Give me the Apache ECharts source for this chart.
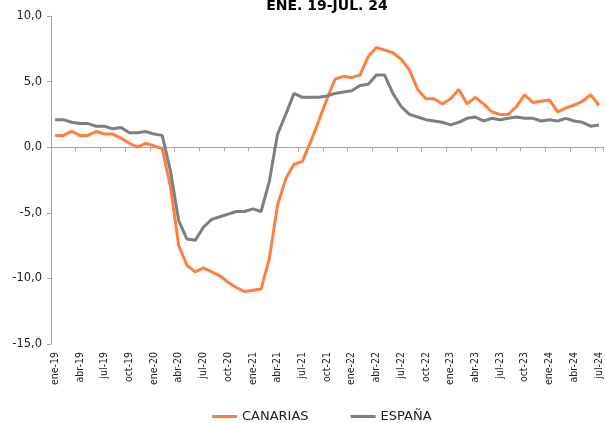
<!DOCTYPE html>
<html>
<head>
<meta charset="utf-8">
<script src="https://cdn.jsdelivr.net/npm/echarts@6/dist/echarts.min.js"></script>
<style>
  html, body { margin: 0; padding: 0; background: #fff; }
  #chart-container { width: 605px; height: 423px; }
</style>
</head>
<body>
<div id="chart-container"></div>
<script>
var months = [];
var yrs = ['19', '20', '21', '22', '23', '24'];
var mNames = ['ene', 'feb', 'mar', 'abr', 'may', 'jun', 'jul', 'ago', 'sep', 'oct', 'nov', 'dic'];
for (var y = 0; y < yrs.length; y++) {
  for (var m = 0; m < 12; m++) {
    if (yrs[y] === '24' && m > 6) break;
    months.push(mNames[m] + '-' + yrs[y]);
  }
}

var canarias = [
  0.9, 0.9, 1.2, 0.9, 0.9, 1.2, 1.0, 1.0, 0.7, 0.3, 0.0, 0.3,
  0.1, -0.1, -3.0, -7.5, -9.0, -9.5, -9.2, -9.5, -9.8, -10.3, -10.7, -11.0,
  -10.9, -10.8, -8.5, -4.4, -2.4, -1.3, -1.1, 0.4, 2.0, 3.7, 5.2, 5.4,
  5.3, 5.5, 6.9, 7.6, 7.4, 7.2, 6.7, 5.9, 4.4, 3.7, 3.7, 3.3,
  3.7, 4.4, 3.3, 3.8, 3.3, 2.7, 2.5, 2.5, 3.1, 4.0, 3.4, 3.5,
  3.6, 2.7, 3.0, 3.2, 3.5, 4.0, 3.2
];
var espana = [
  2.1, 2.1, 1.9, 1.8, 1.8, 1.6, 1.6, 1.4, 1.5, 1.1, 1.1, 1.2,
  1.0, 0.9, -1.8, -5.6, -7.0, -7.1, -6.1, -5.5, -5.3, -5.1, -4.9, -4.9,
  -4.7, -4.9, -2.6, 1.0, 2.5, 4.1, 3.8, 3.8, 3.8, 3.9, 4.1, 4.2,
  4.3, 4.7, 4.8, 5.5, 5.5, 4.1, 3.1, 2.5, 2.3, 2.1, 2.0, 1.9,
  1.7, 1.9, 2.2, 2.3, 2.0, 2.2, 2.1, 2.2, 2.3, 2.2, 2.2, 2.0,
  2.1, 2.0, 2.2, 2.0, 1.9, 1.6, 1.7
];

var font = 'DejaVu Sans, Verdana, sans-serif';
var narrow = '"DejaVu Sans Condensed", "DejaVu Sans", sans-serif';

var dom = document.getElementById('chart-container');
var myChart = echarts.init(dom, null, { renderer: 'canvas' });

var option = {
  animation: false,
  backgroundColor: '#fff',
  title: {
    text: 'ENE. 19-JUL. 24',
    left: 322,
    textAlign: 'center',
    top: -6,
    textStyle: { fontFamily: font, fontSize: 14, fontWeight: 'bold', color: '#000' }
  },
  legend: {
    left: 212,
    top: 410,
    padding: 0,
    itemGap: 42,
    itemWidth: 25,
    itemHeight: 3,
    icon: 'rect',
    textStyle: { fontFamily: font, fontSize: 13, color: '#222' },
    data: ['CANARIAS', 'ESPAÑA']
  },
  grid: { left: 51, right: 2, top: 16, bottom: 79, containLabel: false },
  xAxis: [
    {
      type: 'category',
      data: months,
      position: 'bottom',
      axisLine: { show: false, onZero: false },
      axisTick: { show: false },
      axisLabel: {
        interval: 2,
        rotate: 90,
        margin: 8,
        fontFamily: narrow,
        fontSize: 10.5,
        color: '#222'
      }
    },
    {
      type: 'category',
      data: months,
      position: 'top',
      axisLine: { show: true, onZero: true, onZeroAxisIndex: 0, lineStyle: { color: '#a6a6a6', width: 1 } },
      axisTick: { show: true, interval: 2, inside: true, length: 4, lineStyle: { color: '#a6a6a6' } },
      axisLabel: { show: false }
    }
  ],
  yAxis: {
    type: 'value',
    min: -15,
    max: 10,
    interval: 5,
    splitLine: { show: false },
    axisLine: { show: true, lineStyle: { color: '#a6a6a6' } },
    axisTick: { show: true, length: 4, lineStyle: { color: '#a6a6a6' } },
    axisLabel: {
      margin: 9,
      fontFamily: font,
      fontSize: 11.5,
      color: '#222',
      formatter: function (v) { return v.toFixed(1).replace('.', ','); }
    }
  },
  series: [
    {
      name: 'CANARIAS',
      type: 'line',
      xAxisIndex: 0,
      data: canarias,
      showSymbol: false,
      color: '#ff7f3f',
      lineStyle: { width: 3, color: '#ff7f3f' }
    },
    {
      name: 'ESPAÑA',
      type: 'line',
      xAxisIndex: 0,
      data: espana,
      showSymbol: false,
      color: '#7f7f7f',
      lineStyle: { width: 3, color: '#7f7f7f' }
    }
  ]
};

myChart.setOption(option);
window.addEventListener('resize', myChart.resize);
</script>
</body>
</html>
